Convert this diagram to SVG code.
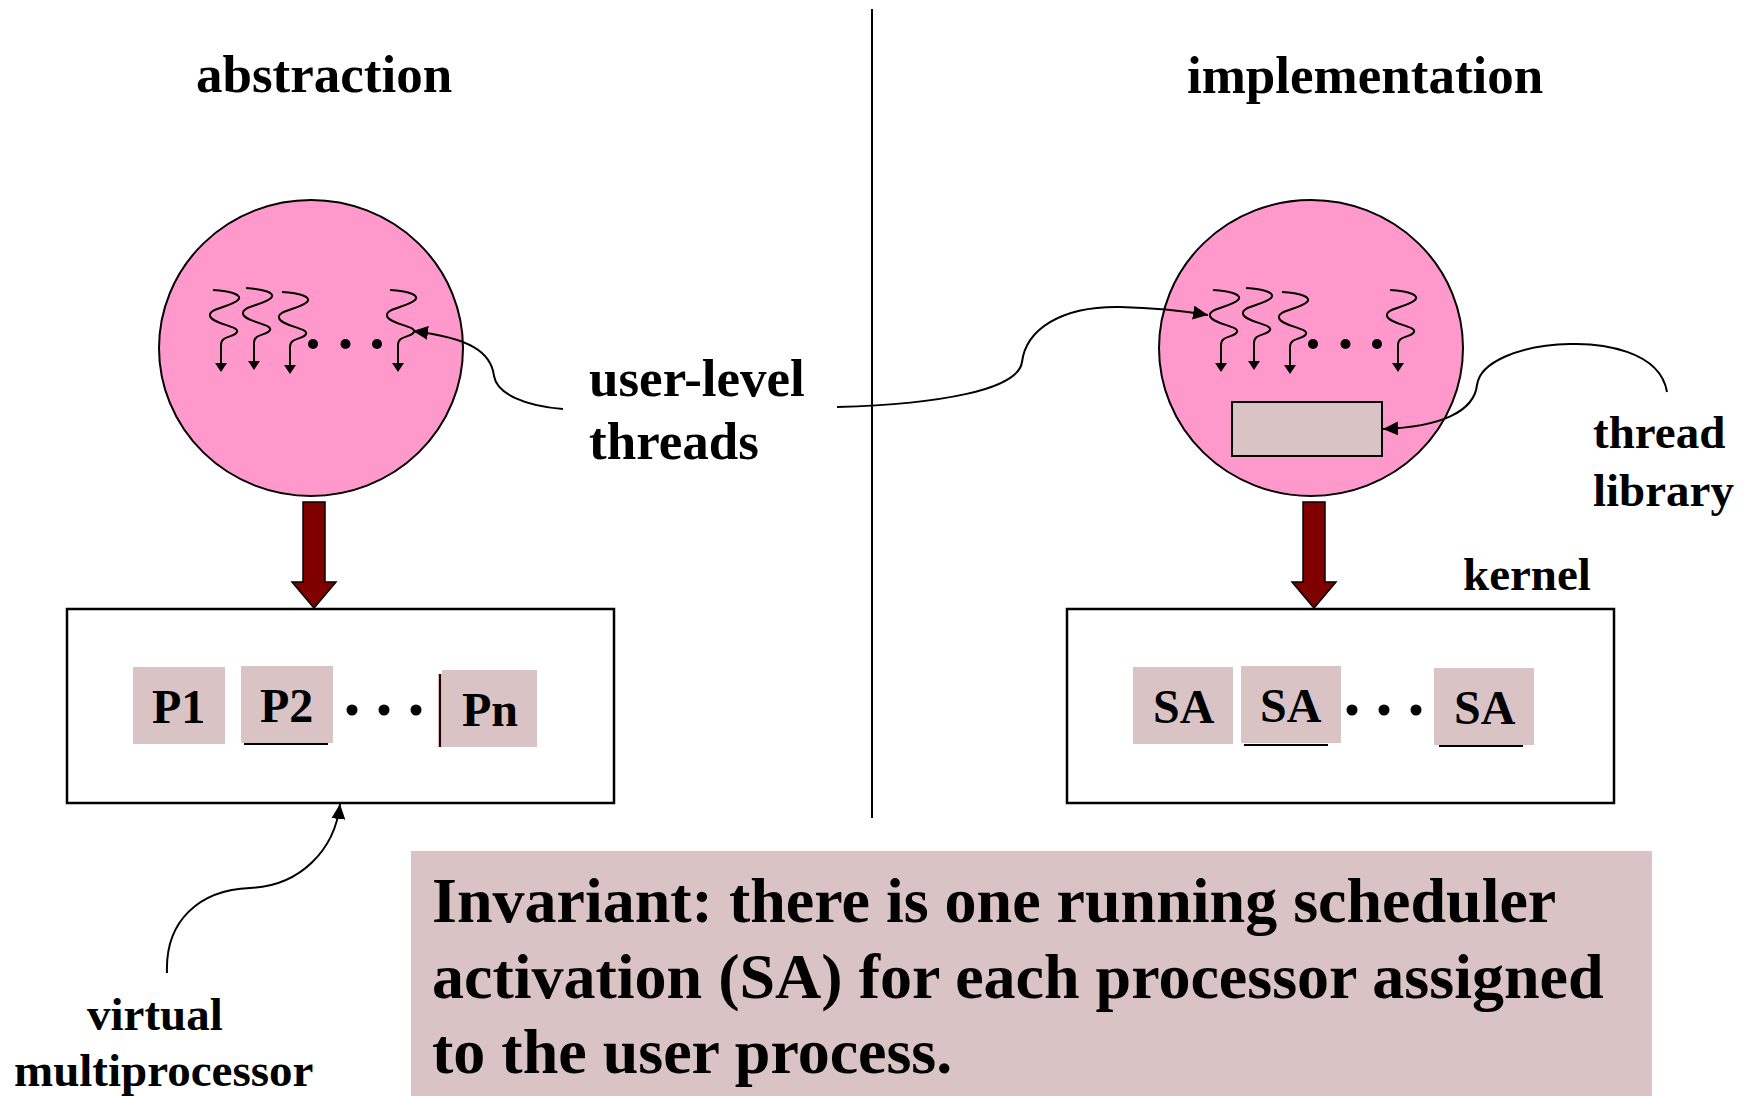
<svg xmlns="http://www.w3.org/2000/svg" xmlns:xlink="http://www.w3.org/1999/xlink" width="1750" height="1096" viewBox="0 0 1750 1096">
  <style>
    text { font-family: "Liberation Serif", "Times New Roman", serif; font-weight: bold; fill: #000; }
    .title { font-size: 53px; }
    .label { font-size: 47px; }
    .big { font-size: 53px; }
    .cell-text { font-size: 48px; }
    .inv { font-size: 64px; }
    .proc { fill: #FF99CC; stroke: #000; stroke-width: 2; }
    .cell { fill: #D9C3C5; }
    .frame { fill: #fff; stroke: #000; stroke-width: 2.5; }
    .conn { fill: none; stroke: #000; stroke-width: 2; }
    .thick { fill: #800000; stroke: #000; stroke-width: 1.5; }
    .uline { stroke: #000; stroke-width: 2; }
    .thr { fill: none; stroke: #000; stroke-width: 2; }
  </style>
  <defs>
    <marker id="head" markerUnits="userSpaceOnUse" markerWidth="16" markerHeight="14" refX="15" refY="7" orient="auto">
      <path d="M0,0 L15,7 L0,14 z" fill="#000"/>
    </marker>
    <!-- one user-level thread: wavy line ending in a small arrowhead -->
    <g id="thread">
      <path class="thr" d="M0,0 C18,1 30,5 25,10 C18,17 -5,18 -3,26 C-1,34 27,36 24,42 C21,48 8,45 8,55 L8,74"/>
      <path d="M2,73 L14,73 L8,82 z" fill="#000"/>
    </g>
    <g id="threadset">
      <use xlink:href="#thread" x="0" y="0"/>
      <use xlink:href="#thread" x="33" y="-2"/>
      <use xlink:href="#thread" x="69" y="2"/>
      <use xlink:href="#thread" x="177" y="0"/>
      <circle cx="100" cy="54" r="5" fill="#000"/>
      <circle cx="132.5" cy="54" r="5" fill="#000"/>
      <circle cx="164" cy="54" r="5" fill="#000"/>
    </g>
  </defs>

  <rect width="1750" height="1096" fill="#fff"/>

  <!-- headings -->
  <g id="heading-abstraction"><text class="title" x="196" y="92">abstraction</text></g>
  <g id="heading-implementation"><text class="title" x="1187" y="93">implementation</text></g>

  <!-- left: user process (abstraction) -->
  <g id="process-left">
    <ellipse class="proc" cx="311" cy="348" rx="152" ry="148"/>
    <use xlink:href="#threadset" x="213" y="290"/>
  </g>

  <!-- right: user process (implementation) -->
  <g id="process-right">
    <ellipse class="proc" cx="1311" cy="348" rx="152" ry="148"/>
    <use xlink:href="#threadset" x="1213" y="290"/>
    <rect x="1232" y="402" width="150" height="54" fill="#D9C3C5" stroke="#000" stroke-width="2"/>
  </g>

  <!-- virtual multiprocessor -->
  <g id="vmp">
    <rect class="frame" x="67" y="609" width="547" height="194"/>
    <rect class="cell" x="133" y="667" width="92" height="77"/>
    <text class="cell-text" x="152" y="723">P1</text>
    <rect class="cell" x="241" y="666" width="92" height="77"/>
    <text class="cell-text" x="260" y="722">P2</text>
    <line class="uline" x1="244" y1="744" x2="328" y2="744"/>
    <circle cx="352" cy="710" r="5.5" fill="#000"/>
    <circle cx="384" cy="710" r="5.5" fill="#000"/>
    <circle cx="416" cy="710" r="5.5" fill="#000"/>
    <line x1="440" y1="674" x2="440" y2="747" stroke="#2a0000" stroke-width="2.5"/>
    <rect class="cell" x="442" y="670" width="95" height="77"/>
    <text class="cell-text" x="462" y="726">Pn</text>
  </g>

  <!-- kernel with scheduler activations -->
  <g id="kernel">
    <rect class="frame" x="1067" y="609" width="547" height="194"/>
    <rect class="cell" x="1133" y="667" width="100" height="77"/>
    <text class="cell-text" x="1153" y="723">SA</text>
    <rect class="cell" x="1241" y="666" width="100" height="77"/>
    <text class="cell-text" x="1260" y="722">SA</text>
    <line class="uline" x1="1244" y1="745" x2="1328" y2="745"/>
    <circle cx="1352" cy="710" r="5.5" fill="#000"/>
    <circle cx="1384" cy="710" r="5.5" fill="#000"/>
    <circle cx="1416" cy="710" r="5.5" fill="#000"/>
    <rect class="cell" x="1434" y="668" width="100" height="77"/>
    <text class="cell-text" x="1454" y="724">SA</text>
    <line class="uline" x1="1439" y1="746" x2="1523" y2="746"/>
  </g>

  <!-- labels -->
  <g id="label-user-level">
    <text class="big" x="589" y="396">user-level</text>
    <text class="big" x="589" y="459">threads</text>
  </g>
  <g id="label-thread-library">
    <text class="label" x="1593" y="448">thread</text>
    <text class="label" x="1593" y="506">library</text>
  </g>
  <g id="label-kernel"><text class="label" x="1463" y="590">kernel</text></g>
  <g id="label-vmp">
    <text class="label" x="87" y="1030">virtual</text>
    <text class="label" x="14" y="1086">multiprocessor</text>
  </g>

  <!-- invariant note -->
  <g id="invariant">
    <rect x="411" y="851" width="1241" height="250" fill="#D9C3C5"/>
    <text class="inv" x="432" y="922">Invariant: there is one running scheduler</text>
    <text class="inv" x="432" y="998">activation (SA) for each processor assigned</text>
    <text class="inv" x="432" y="1073">to the user process.</text>
  </g>

  <!-- connectors -->
  <g id="connectors">
    <line x1="872" y1="9" x2="872" y2="818" stroke="#000" stroke-width="2"/>
    <polygon class="thick" points="303,502 325,502 325,582 336,582 314,608 292,582 303,582"/>
    <polygon class="thick" points="1303,502 1325,502 1325,582 1336,582 1314,608 1292,582 1303,582"/>
    <path class="conn" marker-end="url(#head)" d="M563,409 C525,406 497,394 494,376 C491,352 470,338 413,331"/>
    <path class="conn" marker-end="url(#head)" d="M837,407 C940,404 1018,390 1022,362 C1026,330 1060,306 1120,307 C1160,308 1190,312 1208,315"/>
    <path class="conn" marker-end="url(#head)" d="M1667,392 C1660,350 1600,343 1570,344 C1520,345 1480,362 1477,385 C1474,412 1440,427 1383,429"/>
    <path class="conn" marker-end="url(#head)" d="M167,973 C165,920 200,890 250,888 C300,886 335,850 340,804"/>
  </g>
</svg>
